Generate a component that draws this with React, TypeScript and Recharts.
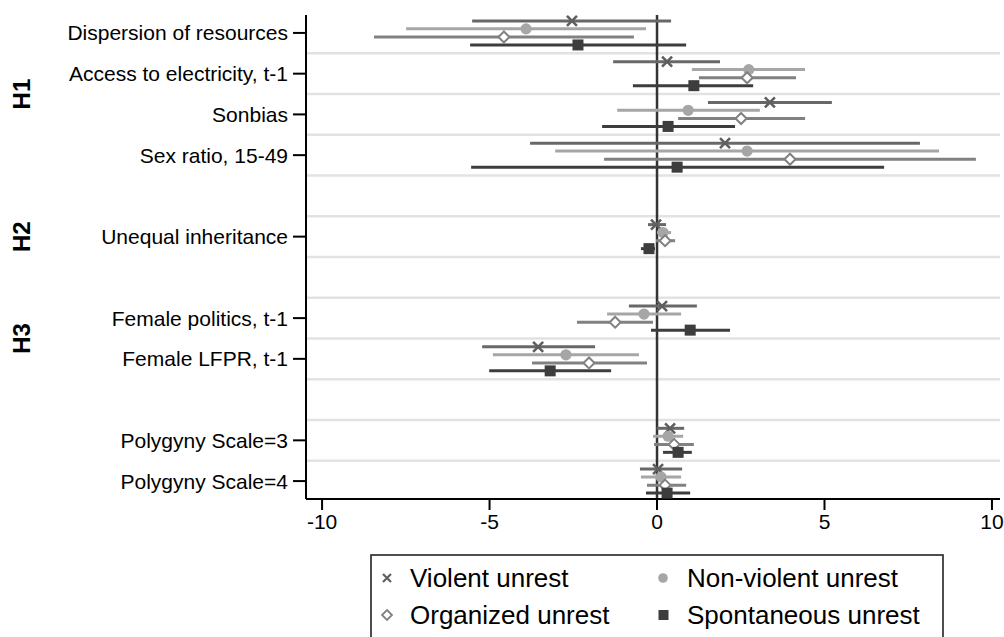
import { ScatterChart, Scatter, XAxis, YAxis, ErrorBar, ReferenceLine } from "recharts";

const FONT = "'Liberation Sans', Arial, Helvetica, sans-serif";

// rows in plot order (gaps between hypothesis blocks)
const categories = [
  "Dispersion of resources",
  "Access to electricity, t-1",
  "Sonbias",
  "Sex ratio, 15-49",
  "Unequal inheritance",
  "Female politics, t-1",
  "Female LFPR, t-1",
  "Polygyny Scale=3",
  "Polygyny Scale=4",
];
const rows = [0, 1, 2, 3, 5, 7, 8, 10, 11];
const gridRows = [0.5, 1.5, 2.5, 3.5, 4.5, 5.5, 6.5, 7.5, 8.5, 9.5, 10.5];
const xTicks = [-10, -5, 0, 5, 10];
const groupLabels = ["H1", "H2", "H3"];
const groupRows = [1.5, 5, 7.5];

const violentEst = [-2.54, 0.3, 3.37, 2.03, -0.03, 0.15, -3.55, 0.39, 0.03];
const violentLo = [-5.52, -1.31, 1.52, -3.79, -0.27, -0.84, -5.22, -0.01, -0.51];
const violentHi = [0.42, 1.88, 5.22, 7.85, 0.27, 1.19, -1.85, 0.81, 0.75];

const nonViolentEst = [-3.91, 2.74, 0.93, 2.69, 0.18, -0.39, -2.72, 0.33, 0.12];
const nonViolentLo = [-7.49, 1.04, -1.19, -3.04, 0.0, -1.49, -4.9, -0.12, -0.48];
const nonViolentHi = [-0.33, 4.42, 3.07, 8.42, 0.42, 0.72, -0.54, 0.78, 0.72];

const organizedEst = [-4.57, 2.69, 2.51, 3.97, 0.24, -1.25, -2.03, 0.51, 0.24];
const organizedLo = [-8.45, 1.25, 0.63, -1.58, -0.03, -2.39, -3.73, -0.09, -0.3];
const organizedHi = [-0.69, 4.15, 4.42, 9.52, 0.54, -0.12, -0.3, 1.1, 0.87];

const spontEst = [-2.36, 1.1, 0.33, 0.6, -0.24, 0.99, -3.19, 0.63, 0.3];
const spontLo = [-5.58, -0.72, -1.64, -5.55, -0.48, -0.18, -5.01, 0.18, -0.33];
const spontHi = [0.87, 2.87, 2.33, 6.78, -0.06, 2.18, -1.37, 1.04, 0.99];

function buildSeries(est: number[], lo: number[], hi: number[], offset: number) {
  return est.map((v, i) => ({
    x: v,
    y: rows[i] + offset,
    err: [v - lo[i], hi[i] - v],
  }));
}

const violentData = buildSeries(violentEst, violentLo, violentHi, -0.295);
const nonViolentData = buildSeries(nonViolentEst, nonViolentLo, nonViolentHi, -0.1);
const organizedData = buildSeries(organizedEst, organizedLo, organizedHi, 0.1);
const spontData = buildSeries(spontEst, spontLo, spontHi, 0.295);

const C_VIOLENT = "#5f5f5f";
const C_VIOLENT_LINE = "#686868";
const C_NONVIOLENT = "#a6a6a6";
const C_ORGANIZED = "#818181";
const C_SPONT = "#3d3d3d";

const Cross = (p: any) => (
  <path
    d={`M${p.cx - 5},${p.cy - 5}L${p.cx + 5},${p.cy + 5}M${p.cx - 5},${p.cy + 5}L${p.cx + 5},${p.cy - 5}`}
    stroke={C_VIOLENT}
    strokeWidth={2.6}
    fill="none"
  />
);
const Dot = (p: any) => <circle cx={p.cx} cy={p.cy} r={5.6} fill={C_NONVIOLENT} />;
const Diamond = (p: any) => (
  <path
    d={`M${p.cx},${p.cy - 5.5}L${p.cx + 5.5},${p.cy}L${p.cx},${p.cy + 5.5}L${p.cx - 5.5},${p.cy}Z`}
    stroke={C_ORGANIZED}
    strokeWidth={2}
    fill="#fff"
  />
);
const Square = (p: any) => (
  <rect x={p.cx - 5.5} y={p.cy - 5.5} width={11} height={11} fill={C_SPONT} />
);

const renderGroup = (label: string) => (props: any) => {
  const vb = props.viewBox || {};
  const cy = vb.y + (vb.height || 0) / 2;
  return (
    <text
      x={22}
      y={cy}
      transform={`rotate(-90, 22, ${cy})`}
      textAnchor="middle"
      dominantBaseline="central"
      fontFamily={FONT}
      fontWeight="bold"
      fontSize={24}
      fill="#000"
    >
      {label}
    </text>
  );
};

export default function App() {
  return (
    <div style={{ position: "absolute", left: 0, top: 0, width: 1004, height: 637, overflow: "hidden", background: "#fff" }}>
      <ScatterChart width={1004} height={637} margin={{ top: 15, right: 4, bottom: 98, left: 0 }}>
        {gridRows.map((r) => (
          <ReferenceLine key={r} y={r} stroke="#e2e2e2" strokeWidth={2.5} />
        ))}
        {groupLabels.map((g, i) => (
          <ReferenceLine key={g} y={groupRows[i]} stroke="none" label={renderGroup(g)} />
        ))}
        <XAxis
          type="number"
          dataKey="x"
          domain={[-10.48, 10.24]}
          ticks={xTicks}
          allowDataOverflow
          height={40}
          tickSize={11}
          tickMargin={4}
          axisLine={{ stroke: "#000", strokeWidth: 2 }}
          tickLine={{ stroke: "#000", strokeWidth: 2 }}
          tick={{ fill: "#000", fontSize: 21, fontFamily: FONT }}
        />
        <YAxis
          type="number"
          dataKey="y"
          domain={[-0.44, 11.44]}
          reversed
          ticks={rows}
          interval={0}
          allowDataOverflow
          width={306}
          tickSize={13}
          tickMargin={5}
          axisLine={{ stroke: "#000", strokeWidth: 2 }}
          tickLine={{ stroke: "#000", strokeWidth: 2 }}
          tick={{ fill: "#000", fontSize: 21, fontFamily: FONT }}
          tickFormatter={(v: number) => categories[rows.indexOf(v)] ?? ""}
        />
        <ReferenceLine x={0} stroke="#333" strokeWidth={2.5} />
        <Scatter data={violentData} shape={Cross} isAnimationActive={false}>
          <ErrorBar dataKey="err" direction="x" width={0} stroke={C_VIOLENT_LINE} strokeWidth={3} />
        </Scatter>
        <Scatter data={nonViolentData} shape={Dot} isAnimationActive={false}>
          <ErrorBar dataKey="err" direction="x" width={0} stroke={C_NONVIOLENT} strokeWidth={3} />
        </Scatter>
        <Scatter data={organizedData} shape={Diamond} isAnimationActive={false}>
          <ErrorBar dataKey="err" direction="x" width={0} stroke={C_ORGANIZED} strokeWidth={3} />
        </Scatter>
        <Scatter data={spontData} shape={Square} isAnimationActive={false}>
          <ErrorBar dataKey="err" direction="x" width={0} stroke={C_SPONT} strokeWidth={3} />
        </Scatter>
      </ScatterChart>

      <svg width={1004} height={637} style={{ position: "absolute", left: 0, top: 0 }}>
        <rect x={371} y={555} width={572} height={120} fill="#fff" stroke="#222" strokeWidth={1.6} />
        <g fontFamily={FONT} fontSize={26} fill="#000">
          <path d="M383,574L391,582M383,582L391,574" stroke={C_VIOLENT} strokeWidth={2.2} />
          <text x={410} y={587}>Violent unrest</text>
          <circle cx={663} cy={578} r={4.8} fill={C_NONVIOLENT} />
          <text x={687} y={587}>Non-violent unrest</text>
          <path d="M387,610L392,615L387,620L382,615Z" stroke={C_ORGANIZED} strokeWidth={1.8} fill="#fff" />
          <text x={410} y={624}>Organized unrest</text>
          <rect x={658.5} y={610} width={10} height={10} fill={C_SPONT} />
          <text x={687} y={624}>Spontaneous unrest</text>
        </g>
      </svg>
    </div>
  );
}
